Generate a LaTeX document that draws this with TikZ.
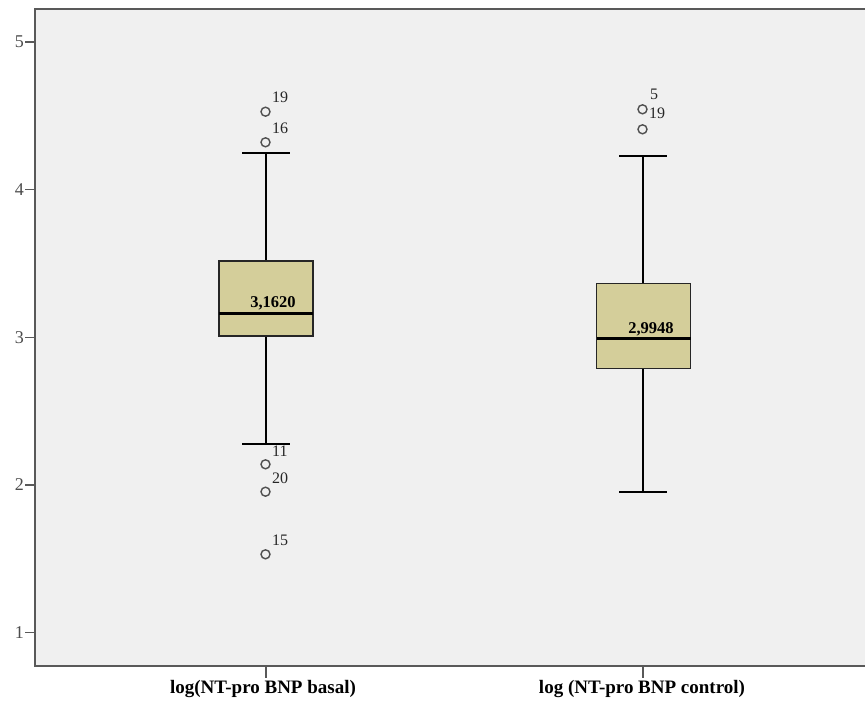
\documentclass[tikz,border=0pt]{standalone}
\usepackage{fontspec}
\setmainfont{Liberation Serif}
\definecolor{plotbg}{HTML}{F0F0F0}
\definecolor{boxfill}{HTML}{D4CE9A}
\definecolor{framecol}{HTML}{595959}
\definecolor{outcol}{HTML}{505050}
\begin{document}
\begin{tikzpicture}[x=1pt,y=-1pt,
  frame/.style={draw=framecol,line width=2pt},
  tickline/.style={draw=framecol,line width=1.5pt},
  ticklab/.style={font=\fontsize{18}{18}\selectfont,text=black!70,anchor=east,inner sep=1pt},
  boxbody/.style={draw=black!85,fill=boxfill,line width=1.3pt},
  whisker/.style={draw=black,line width=2.6pt},
  medline/.style={draw=black,line width=2.8pt},
  outlier/.style={circle,draw=outcol,line width=1.4pt,fill=none,minimum size=9pt,inner sep=0pt},
  outlab/.style={font=\fontsize{16}{16}\selectfont,text=black!85,anchor=south west,inner sep=0pt},
  medlab/.style={font=\bfseries\fontsize{16.5}{16.5}\selectfont,inner sep=0pt,anchor=base},
  catlab/.style={font=\bfseries\fontsize{19}{19}\selectfont,inner sep=0pt}
]
\useasboundingbox[fill=white] (0,0) rectangle (865,701);
% plot area
\fill[plotbg] (35,9) rectangle (865,666);
\coordinate (tl) at (35,9);
\coordinate (bl) at (35,666);
\coordinate (br) at (865,666);
\coordinate (tr) at (865,9);
\draw[frame] (tr) -- (tl) -- (bl) -- (br);
% y ticks
\foreach \v/\yy in {1/632.7,2/485,3/337.4,4/189.7,5/42}{
  \coordinate (yt\v) at (35,\yy);
  \coordinate (ytl\v) at (25,\yy);
  \draw[tickline] (yt\v) -- (ytl\v);
  \node[ticklab] (ylab\v) at (ytl\v) {\v};
}
% x ticks
\coordinate (xt1) at (266,666);
\coordinate (xt1b) at (266,678);
\coordinate (xt2) at (643,666);
\coordinate (xt2b) at (643,678);
\draw[tickline] (xt1) -- (xt1b);
\draw[tickline] (xt2) -- (xt2b);
\node[catlab] (cat1) at (263,689) {log(NT-pro BNP basal)};
\node[catlab] (cat2) at (642,689) {log (NT-pro BNP control)};

% ---------- box 1 ----------
\coordinate (w1top) at (266,153);
\coordinate (w1q3) at (266,261);
\coordinate (w1q1) at (266,336);
\coordinate (w1bot) at (266,444);
\coordinate (c1tl) at (242,153);
\coordinate (c1tr) at (290,153);
\coordinate (c1bl) at (242,444);
\coordinate (c1br) at (290,444);
\draw[whisker] (w1top) -- (w1q3);
\draw[whisker] (w1q1) -- (w1bot);
\draw[whisker] (c1tl) -- (c1tr);
\draw[boxbody] (219,261) rectangle (313,336);
\coordinate (m1l) at (219,313.4);
\coordinate (m1r) at (313,313.4);
\draw[medline] (m1l) -- (m1r);
\node[medlab] (med1) at (273,307) {3,1620};
% outliers box 1
\node[outlier] (o1a) at (265.5,111.7) {};
\node[outlab] (l1a) at (272,103) {19};
\node[outlier] (o1b) at (265.5,142.3) {};
\node[outlab] (l1b) at (272,134) {16};
\node[outlier] (o1c) at (265.5,464.3) {};
\node[outlab] (l1c) at (272,457) {11};
\draw[whisker] (c1bl) -- (c1br);
\node[outlier] (o1d) at (265.5,491.7) {};
\node[outlab] (l1d) at (272,484) {20};
\node[outlier] (o1e) at (265.5,554.3) {};
\node[outlab] (l1e) at (272,546) {15};

% ---------- box 2 ----------
\coordinate (w2top) at (643,156);
\coordinate (w2q3) at (643,283.5);
\coordinate (w2q1) at (643,368.5);
\coordinate (w2bot) at (643,492);
\coordinate (c2tl) at (619,156);
\coordinate (c2tr) at (667,156);
\coordinate (c2bl) at (619,492);
\coordinate (c2br) at (667,492);
\draw[whisker] (w2top) -- (w2q3);
\draw[whisker] (w2q1) -- (w2bot);
\draw[whisker] (c2tl) -- (c2tr);
\draw[whisker] (c2bl) -- (c2br);
\draw[boxbody] (596.5,283.5) rectangle (690.5,368.5);
\coordinate (m2l) at (596.5,338.2);
\coordinate (m2r) at (690.5,338.2);
\draw[medline] (m2l) -- (m2r);
\node[medlab] (med2) at (651,333) {2,9948};
% outliers box 2
\node[outlier] (o2a) at (642.5,109.3) {};
\node[outlab] (l2a) at (650,100) {5};
\node[outlier] (o2b) at (642.5,129.3) {};
\node[outlab] (l2b) at (649,119) {19};
\end{tikzpicture}
\end{document}
